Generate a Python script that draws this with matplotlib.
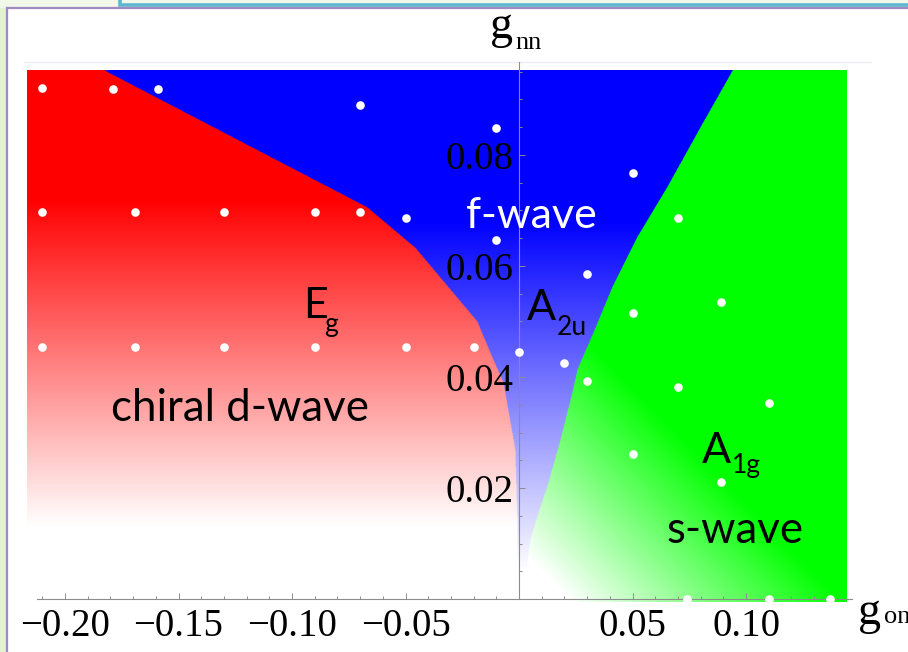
"""
Phase diagram in the (g_on, g_nn) plane: E_g / A_2u / A_1g regions with
fading colours, sampled points and Mathematica-style axes through the origin.
"""

import numpy as np
import matplotlib
matplotlib.use("Agg")
import matplotlib.pyplot as plt
from matplotlib.patches import Rectangle
from matplotlib.lines import Line2D

# Phase boundaries (g_nn ascending, g_on)
eg_a2u_gnn = [0.0, 0.0142, 0.0268, 0.0389, 0.0443, 0.0499, 0.0632, 0.0705, 0.0951]
eg_a2u_gon = [-0.0009, -0.0009, -0.0018, -0.0070, -0.0128, -0.0185, -0.0458, -0.0670, -0.1824]
a1g_a2u_gnn = [0.0, 0.0106, 0.0166, 0.0202, 0.0286, 0.0371, 0.0413, 0.0479,
               0.0562, 0.0652, 0.0742, 0.0849, 0.0951]
a1g_a2u_gon = [0.0013, 0.0048, 0.0093, 0.0123, 0.0181, 0.0233, 0.0256, 0.0326,
               0.0410, 0.0520, 0.0652, 0.0797, 0.0938]

# extent of the computed region
gon_min, gon_max = -0.2167, 0.1441
gnn_min, gnn_max = -0.0006, 0.0952

# sampled (g_on, g_nn) points
pts_gon = [-0.210, -0.179, -0.159, -0.070, -0.010, 0.050, 0.070,
           -0.210, -0.169, -0.130, -0.090, -0.070, -0.050, -0.010, 0.030, 0.089, 0.050,
           -0.210, -0.169, -0.130, -0.090, -0.050, -0.020, 0.000, 0.020, 0.030, 0.070,
           0.110, 0.050, 0.089,
           0.074, 0.110, 0.137]
pts_gnn = [0.0921, 0.0919, 0.0919, 0.0890, 0.0849, 0.0768, 0.0686,
           0.0697, 0.0697, 0.0697, 0.0697, 0.0697, 0.0686, 0.0647, 0.0586, 0.0535, 0.0515,
           0.0454, 0.0454, 0.0454, 0.0454, 0.0454, 0.0454, 0.0445, 0.0425, 0.0393, 0.0382,
           0.0353, 0.0261, 0.0211,
           0.0, 0.0, 0.0]

# axis ticks
x_major = [-0.20, -0.15, -0.10, -0.05, 0.05, 0.10]
x_major_labels = ["\u22120.20", "\u22120.15", "\u22120.10", "\u22120.05", "0.05", "0.10"]
y_major = [0.02, 0.04, 0.06, 0.08]
y_major_labels = ["0.02", "0.04", "0.06", "0.08"]
x_minor = [round(v, 2) for v in np.arange(-0.21, 0.145, 0.01)]
y_minor = [round(v, 3) for v in np.arange(0.005, 0.096, 0.005)]

W, H = 908, 652
fig = plt.figure(figsize=(W / 100, H / 100), dpi=100)
fig.patch.set_facecolor("white")

# slide frame around the plot
def fig_rect(x, y, w, h, **kw):
    fig.add_artist(Rectangle((x / W, 1 - (y + h) / H), w / W, h / H,
                             transform=fig.transFigure, **kw))

fig_rect(0, 0, 7, H, facecolor="#e3f2d3", edgecolor="none")
fig_rect(0, 0, W, 8, facecolor="#f1f8ea", edgecolor="none")
fig_rect(120, -10, 800, 15, facecolor="#f1f8ea", edgecolor="#5db7cf", linewidth=2.6)
fig.add_artist(Line2D([7 / W, 7 / W], [0, 1 - 8 / H], transform=fig.transFigure,
                      color="#a08ac4", linewidth=1.6))
fig.add_artist(Line2D([7 / W, 1], [1 - 8 / H, 1 - 8 / H], transform=fig.transFigure,
                      color="#a08ac4", linewidth=1.6))

ax = fig.add_axes([0, 0, 1, 1])
ax.set_facecolor("none")
ax.set_xlim(-519 / 2270, (W - 519) / 2270)
ax.set_ylim((599 - H) / 5550, 599 / 5550)

# colour field
gx = np.linspace(gon_min, gon_max, 1700)
gy = np.linspace(gnn_min, gnn_max, 1100)
X, Y = np.meshgrid(gx, gy)
x_red = np.interp(Y, eg_a2u_gnn, eg_a2u_gon)
x_green = np.interp(Y, a1g_a2u_gnn, a1g_a2u_gon)
red = X < x_red
green = X > x_green
blue = ~red & ~green

t_red = np.clip((Y - 0.013) / 0.059, 0, 1)
t_blue = np.clip((Y - 0.005) / 0.063, 0, 1)
t_green = np.clip(X / 0.12 + Y / 0.05 - 0.18, 0, 1)

img = np.ones(X.shape + (3,))
img[red, 1] = 1 - t_red[red]
img[red, 2] = 1 - t_red[red]
img[blue, 0] = 1 - t_blue[blue]
img[blue, 1] = 1 - t_blue[blue]
img[green, 0] = 1 - t_green[green]
img[green, 2] = 1 - t_green[green]
ax.imshow(img, origin="lower", extent=(gon_min, gon_max, gnn_min, gnn_max),
          aspect="auto", interpolation="antialiased", zorder=1)

# faint frame line of the original plot
ax.plot([-0.218, 0.155], [0.0968, 0.0968], color="#ebebf2", linewidth=1, zorder=0.5)

# axes through the origin
for side in ["top", "right"]:
    ax.spines[side].set_visible(False)
ax.spines["left"].set_position(("data", 0))
ax.spines["bottom"].set_position(("data", 0))
ax.spines["left"].set_bounds(0, 0.0968)
ax.spines["bottom"].set_bounds(-0.2123, 0.1465)
for side in ["left", "bottom"]:
    ax.spines[side].set_color("#8c8c8c")
    ax.spines[side].set_linewidth(0.8)
    ax.spines[side].set_zorder(3)

ax.set_xticks(x_major)
ax.set_xticklabels(x_major_labels)
ax.set_xticks(x_minor, minor=True)
ax.set_yticks(y_major)
ax.set_yticklabels(y_major_labels)
ax.set_yticks(y_minor, minor=True)
ax.tick_params(which="both", direction="in", color="#8c8c8c", width=0.7)
ax.tick_params(which="major", length=4)
ax.tick_params(which="minor", length=2.5)
ax.tick_params(axis="x", which="major", pad=6.5)
ax.tick_params(axis="y", which="major", pad=4.3)
for lab in ax.get_xticklabels() + ax.get_yticklabels():
    lab.set_fontfamily("Liberation Serif")
    lab.set_fontsize(28)
    lab.set_zorder(4)

# sampled points
ax.plot(pts_gon, pts_gnn, "o", color="white", markersize=6.2, markeredgewidth=0,
        linestyle="none", zorder=5, clip_on=False)

# axis names
serif = dict(fontfamily="Liberation Serif", va="baseline", ha="left", zorder=6)
ax.text(-0.0128, 0.1011, "g", fontsize=33, **serif)
ax.text(-0.0016, 0.0991, "nn", fontsize=19, **serif)
ax.text(0.1493, -0.0045, "g", fontsize=33, **serif)
ax.text(0.1608, -0.0043, "on", fontsize=19, **serif)

# phase labels
sans = dict(fontfamily="Lato", va="baseline", zorder=6)
ax.text(0.0053, 0.0668, "f-wave", fontsize=31, color="white", ha="center", **sans)
ax.text(-0.1229, 0.0321, "chiral d-wave", fontsize=31.5, color="black", ha="center", **sans)
ax.text(0.0952, 0.0101, "s-wave", fontsize=31.5, color="black", ha="center", **sans)
ax.text(-0.0952, 0.0506, "E", fontsize=31, ha="left", **sans)
ax.text(-0.0858, 0.0481, "g", fontsize=19, ha="left", **sans)
ax.text(0.0035, 0.0503, "A", fontsize=31, ha="left", **sans)
ax.text(0.0165, 0.0476, "2u", fontsize=19, ha="left", **sans)
ax.text(0.0806, 0.0245, "A", fontsize=31, ha="left", **sans)
ax.text(0.0936, 0.0227, "1g", fontsize=19, ha="left", **sans)

fig.savefig("out.png", dpi=100)
